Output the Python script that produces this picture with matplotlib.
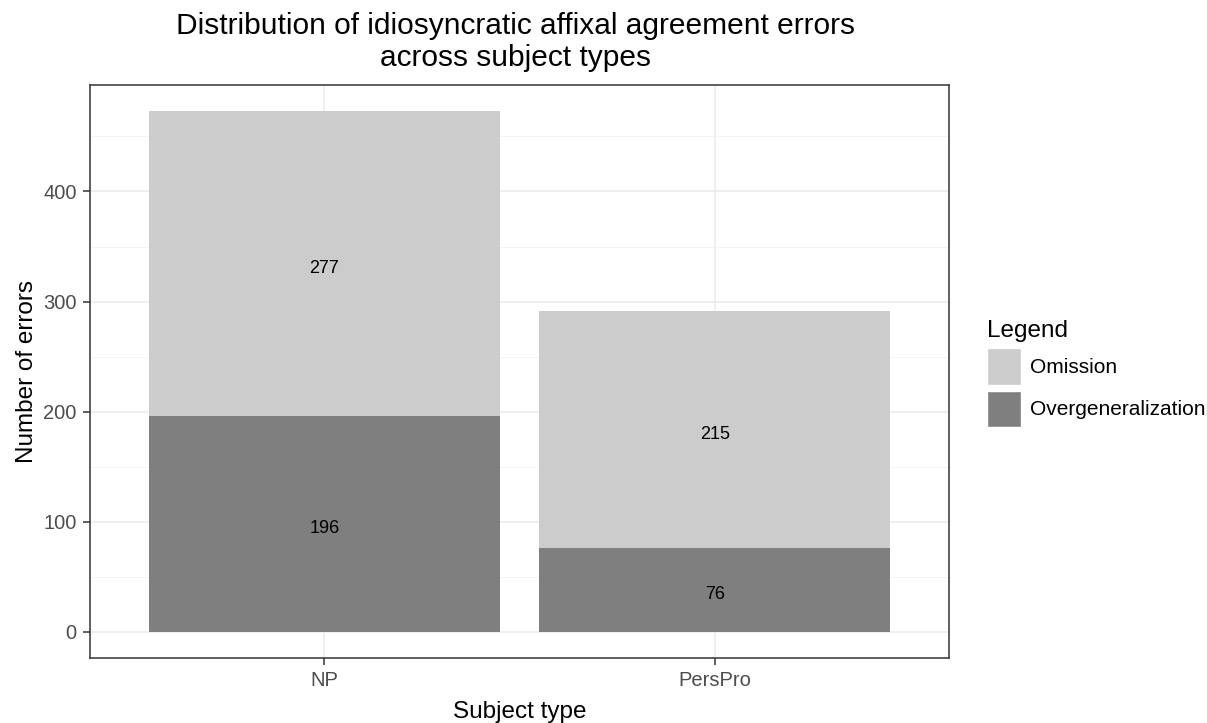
import matplotlib
matplotlib.use("Agg")
import matplotlib.pyplot as plt
from matplotlib.patches import Patch
import numpy as np

plt.rcParams['font.family'] = ['Liberation Sans', 'DejaVu Sans']

# data
subject_types = ["NP", "PersPro"]
overgeneralization = [196, 76]
omission = [277, 215]
series_names = ["Omission", "Overgeneralization"]
colors = {"Omission": "#CCCCCC", "Overgeneralization": "#7F7F7F"}

fig = plt.figure(figsize=(12.07, 7.23), dpi=100)
ax = fig.add_axes([90 / 1207, 1 - 658 / 723, (949 - 90) / 1207, (658 - 85) / 723])

x = np.arange(1, len(subject_types) + 1)
over = np.array(overgeneralization)
omi = np.array(omission)

ax.bar(x, over, width=0.9, color=colors["Overgeneralization"], zorder=2)
ax.bar(x, omi, width=0.9, bottom=over, color=colors["Omission"], zorder=2)

# labels in the middle of each segment (nudged a bit down like the original)
for xi, o, m in zip(x, over, omi):
    for val, ypos in [(o, o / 2), (m, o + m / 2)]:
        ax.annotate(str(val), (xi, ypos), xytext=(0, -3.3), textcoords="offset points",
                    ha="center", va="center", fontsize=13, color="black", zorder=3)

top = (over + omi).max()
ax.set_ylim(-0.05 * top, top * 1.05)
ax.set_xlim(0.4, len(subject_types) + 0.6)

ax.set_yticks([0, 100, 200, 300, 400])
ax.set_yticks([50, 150, 250, 350, 450], minor=True)
ax.set_xticks(x)
ax.set_xticklabels(subject_types)

ax.grid(which="major", color="#EBEBEB", linewidth=1.1, zorder=0)
ax.grid(which="minor", axis="y", color="#F2F2F2", linewidth=0.6, zorder=0)
ax.set_axisbelow(True)

for s in ax.spines.values():
    s.set_color("#333333")
    s.set_linewidth(1.1)

ax.tick_params(axis="both", which="major", colors="#333333", labelcolor="#4D4D4D",
               labelsize=14.5, length=5, width=1.1, pad=4.5)
ax.tick_params(axis="y", which="minor", length=0)

ax.set_xlabel("Subject type", fontsize=17.5, labelpad=8)
ax.set_ylabel("Number of errors", fontsize=17.5, labelpad=4)

fig.text(515 / 1207, 1 - 42 / 723, "Distribution of idiosyncratic affixal agreement errors\nacross subject types",
         ha="center", va="center", fontsize=21.5, linespacing=1.2)

handles = [Patch(facecolor=colors[n], edgecolor="white", label=n) for n in series_names]
leg = fig.legend(handles=handles, title="Legend", loc="upper left",
                 bbox_to_anchor=(987 / 1207, 1 - 320 / 723), frameon=False,
                 fontsize=15, title_fontsize=17.5, handlelength=1.65, handleheight=2.3,
                 handletextpad=0.4, labelspacing=0.3, borderaxespad=0, borderpad=0)
leg._legend_box.align = "left"

fig.savefig("out.png", dpi=100)
